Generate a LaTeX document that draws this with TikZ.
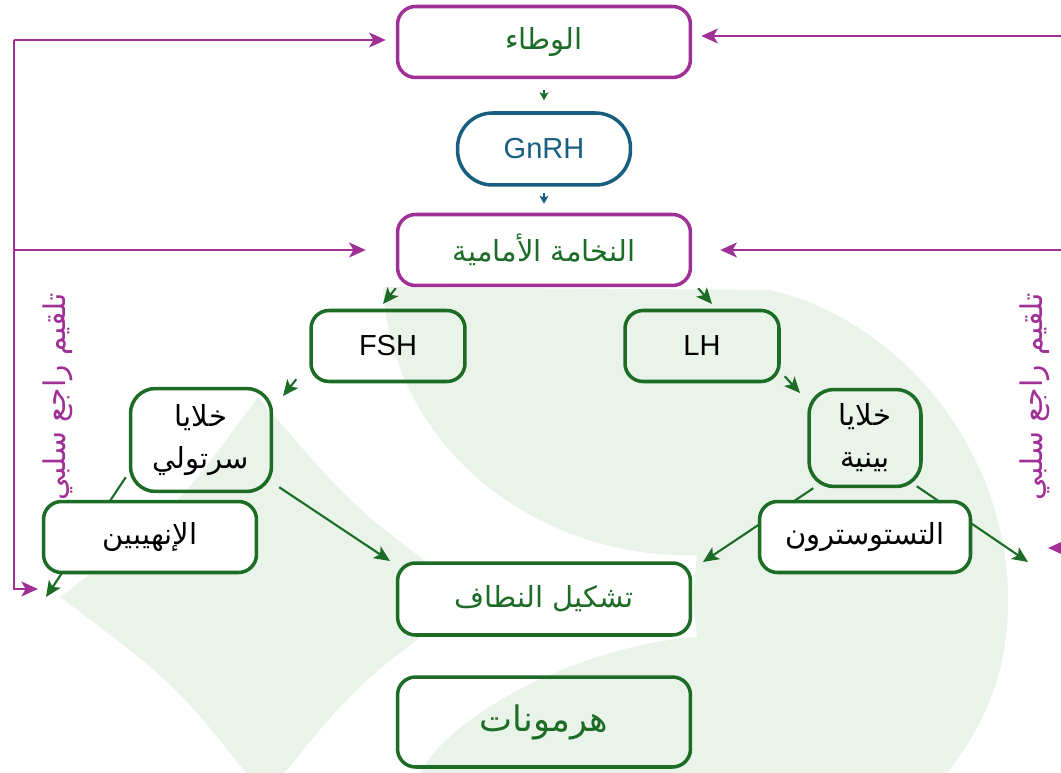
\documentclass[tikz,border=0pt]{standalone}
\usepackage{fontspec}
\setmainfont{Liberation Sans}
\newfontfamily\arabicfont[Script=Arabic]{DejaVu Sans}
\TeXXeTstate=1
\usetikzlibrary{arrows.meta}
\definecolor{fbpurple}{RGB}{160,48,150}
\definecolor{hgreen}{RGB}{28,108,38}
\definecolor{gblue}{RGB}{24,94,128}
\definecolor{bggreen}{RGB}{233,243,233}
\newcommand{\artxt}[1]{{\arabicfont\beginR #1\endR}}
\pgfdeclarelayer{deco}
\pgfdeclarelayer{links}
\pgfsetlayers{deco,links,main}
\tikzset{
  box/.style={draw=hgreen, line width=2pt, rounded corners=0.36cm, inner sep=0pt,
    minimum height=1.42cm, align=center, font=\fontsize{16.5}{24}\selectfont},
  topbox/.style={box, draw=fbpurple, text=hgreen, fill=white, minimum width=5.86cm},
  link/.style={draw=hgreen, line width=1.2pt, -{Stealth[length=9pt,width=8pt,inset=2.2pt]}},
  minilink/.style={line width=0.8pt, -{Stealth[length=4.5pt,width=5pt,inset=1pt]}},
  fb/.style={draw=fbpurple, line width=1.2pt, -{Stealth[length=9.5pt,width=8.5pt,inset=2.5pt]}},
  fblabel/.style={rotate=90, text=fbpurple, font=\fontsize{17}{20}\selectfont}
}

\begin{document}
\begin{tikzpicture}[x=0.02cm, y=-0.02cm]
\useasboundingbox (0,0) rectangle (1061,773);

\node[topbox] (wat) at (544,42) {\artxt{الوطاء}};
\node[box, draw=gblue, text=gblue, fill=white, minimum width=3.46cm, minimum height=1.44cm,
  rounded corners=0.7cm] (gnrh) at (544,149) {GnRH};
\node[topbox] (pit) at (544,250) {\artxt{النخامة الأمامية}};
\node[box, minimum width=3.08cm] (fsh) at (388,346) {FSH};
\node[box, minimum width=3.08cm] (lh) at (702,346) {LH};
\node[box, minimum width=2.82cm, minimum height=2.06cm, rounded corners=0.5cm] (sert) at (201,440)
  {\artxt{خلايا}\\\artxt{سرتولي}};
\node[box, minimum width=2.24cm, minimum height=1.94cm, rounded corners=0.5cm] (leyd) at (865,438)
  {\artxt{خلايا}\\\artxt{بينية}};
\node[box, fill=white, minimum width=4.26cm] (inhib) at (150,537) {\artxt{الإنهيبين}};
\node[box, fill=white, minimum width=4.22cm] (testo) at (865,537) {\artxt{التستوسترون}};
\node[box, fill=white, text=hgreen, minimum width=5.86cm, minimum height=1.44cm] (sperm) at (544,599)
  {\artxt{تشكيل النطاف}};
\node[box, text=hgreen, minimum width=5.86cm, minimum height=1.8cm,
  font=\fontsize{20}{24}\selectfont] (horm) at (544,722) {\artxt{هرمونات}};

\node[fblabel] (fbl) at (58,397) {\artxt{تلقيم راجع سلبي}};
\node[fblabel] (fbr) at (1035,397) {\artxt{تلقيم راجع سلبي}};

\coordinate (fshin) at (383,304);
\coordinate (lhin) at (712,304);
\coordinate (sertin) at (283,396);
\coordinate (leydin) at (800,393);
\coordinate (spermin) at (390,561);
\coordinate (inhibout) at (46,597);
\coordinate (testl) at (703,562);
\coordinate (testr) at (1028,562);
\coordinate (lt) at (14,40);
\coordinate (lb) at (14,589);
\coordinate (lend) at (38,589);
\coordinate (rt) at (1075,36);
\coordinate (rb) at (1075,548);
\coordinate (rend) at (1048,548);

\begin{pgfonlayer}{links}
\draw[minilink, draw=hgreen, shorten <=0.22cm, shorten >=0.22cm] (wat) -- (gnrh);
\draw[minilink, draw=gblue, shorten <=0.12cm, shorten >=0.18cm] (gnrh) -- (pit);
\draw[link] ([shift={(0,1)}]pit.south west) -- (fshin);
\draw[link] ([shift={(6,1)}]pit.south east) -- (lhin);
\draw[link] ([shift={(-13,-4)}]fsh.south west) -- (sertin);
\draw[link] ([shift={(4,-7)}]lh.south east) -- (leydin);
\draw[link] ([shift={(6,-6)}]sert.south east) -- (spermin);
\draw[link] ([shift={(-3,-16)}]sert.south west) -- (inhibout);
\draw[link] ([shift={(6,0)}]leyd.south west) -- (testl);
\draw[link] ([shift={(-6,-2)}]leyd.south east) -- (testr);

\draw[fb, shorten >=0.2cm] (lt) -- (lt -| wat.west);
\draw[fb, shorten >=0.6cm] (lt |- pit.west) -- (pit.west);
\draw[fb] (lt) -- (lb) -- (lend);
\draw[fb, shorten >=0.18cm] (rt) -- (rt -| wat.east);
\draw[fb, shorten >=0.56cm] (rt |- pit.east) -- (pit.east);
\draw[fb] (rt) -- (rb) -- (rend);
\end{pgfonlayer}

\begin{pgfonlayer}{deco}
\fill[bggreen] (383,287) -- (770,290) .. controls (900,320) and (1008,450) .. (1008,600)
  .. controls (1008,680) and (980,730) .. (947,773) -- (420,773)
  .. controls (450,715) and (580,645) .. (697,637) -- (693,596) -- (697,555)
  .. controls (540,560) and (392,450) .. (383,287) -- cycle;
\fill[bggreen] (258,397) .. controls (355,510) .. (475,597) .. controls (356,684) .. (265,797)
  .. controls (176,684) .. (60,597) .. controls (175,510) .. (258,397) -- cycle;
\end{pgfonlayer}
\end{tikzpicture}
\end{document}
